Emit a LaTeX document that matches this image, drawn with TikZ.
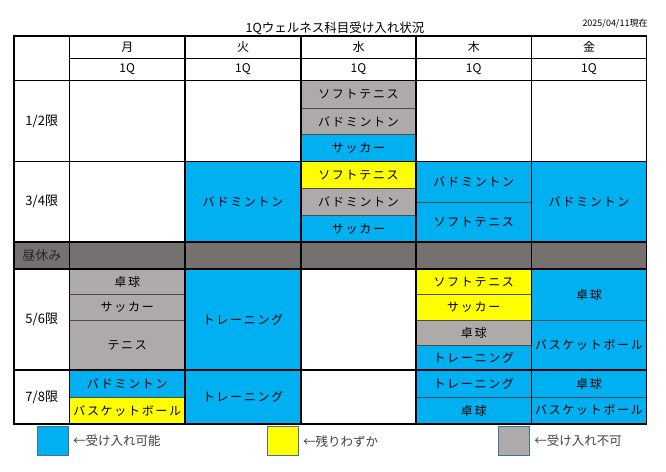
\documentclass[tikz,border=0pt]{standalone}
\usepackage{fontspec}
\setmainfont{Noto Sans CJK JP}
\newfontfamily\kana[LetterSpace=14]{Noto Sans CJK JP}
\usetikzlibrary{positioning}

\definecolor{okblue}{HTML}{00B0F0}
\definecolor{fewyellow}{HTML}{FFFF00}
\definecolor{fullgray}{HTML}{AEAAAA}
\definecolor{lunchgray}{HTML}{767171}
\definecolor{keyedge}{HTML}{41719C}

\tikzset{
	slot/.style={rectangle,draw=black!70,line width=0.9pt,inner sep=0pt,font=\kana\fontsize{12}{14}\selectfont,text=black},
	ok/.style={slot,fill=okblue},
	few/.style={slot,fill=fewyellow},
	full/.style={slot,fill=fullgray},
	lunch/.style={slot,fill=lunchgray,text=black!85,font=\fontsize{13}{15}\selectfont},
	label/.style={inner sep=0pt,font=\fontsize{12}{14}\selectfont},
	period/.style={label,font=\fontsize{13}{15}\selectfont},
	grid/.style={line width=1.4pt,black},
	key/.style={rectangle,draw=keyedge,line width=0.6pt,minimum width=31pt,minimum height=29pt},
	keytext/.style={inner sep=0pt,font=\fontsize{12.5}{14}\selectfont,text=black!75}
}

% cell: name, style, x1, y1, x2, y2, text
\newcommand\putcell[7]{%
	\node[#2,minimum width={(#5-#3)*1pt},minimum height={(#6-#4)*1pt}] (#1) at ({(#3+#5)/2},{(#4+#6)/2}) {#7};}

\begin{document}
\begin{tikzpicture}[x=1pt,y=-1pt]

	\useasboundingbox (0,0) rectangle (666,471);

	\def\xL{14}
	\def\xMo{69.5}
	\def\xTu{185}
	\def\xWe{301}
	\def\xTh{416}
	\def\xFr{531.5}
	\def\xR{646.5}
	\def\yT{36}
	\def\yH{58.5}
	\def\yA{80.5}
	\def\yB{161.5}
	\def\yC{242}
	\def\yD{269}
	\def\yE{370}
	\def\yF{424}

	\node[label] (title) at (335,28.5) {\fontsize{12.5}{14}\selectfont 1Qウェルネス科目受け入れ状況};
	\node[label] (date) at (615,24) {\fontsize{9}{11}\selectfont 2025/04/11現在};

	% header
	\node[label] (mon) at ({(\xMo+\xTu)/2},47) {月};
	\node[label] (tue) at ({(\xTu+\xWe)/2},47) {火};
	\node[label] (wed) at ({(\xWe+\xTh)/2},47) {水};
	\node[label] (thu) at ({(\xTh+\xFr)/2},47) {木};
	\node[label] (fri) at ({(\xFr+\xR)/2},47) {金};
	\node[label] (qmon) at ({(\xMo+\xTu)/2},69.5) {1Q};
	\node[label] (qtue) at ({(\xTu+\xWe)/2},69.5) {1Q};
	\node[label] (qwed) at ({(\xWe+\xTh)/2},69.5) {1Q};
	\node[label] (qthu) at ({(\xTh+\xFr)/2},69.5) {1Q};
	\node[label] (qfri) at ({(\xFr+\xR)/2},69.5) {1Q};

	% periods
	\node[period] (p12) at ({(\xL+\xMo)/2},{(\yA+\yB)/2}) {1/2限};
	\node[period] (p34) at ({(\xL+\xMo)/2},{(\yB+\yC)/2}) {3/4限};
	\node[period] (p56) at ({(\xL+\xMo)/2},{(\yD+\yE)/2}) {5/6限};
	\node[period] (p78) at ({(\xL+\xMo)/2},{(\yE+\yF)/2}) {7/8限};

	% 1/2
	\putcell{we12a}{full}{\xWe}{\yA}{\xTh}{108}{ソフトテニス}
	\putcell{we12b}{full}{\xWe}{108}{\xTh}{134.7}{バドミントン}
	\putcell{we12c}{ok}{\xWe}{134.7}{\xTh}{\yB}{サッカー}

	% 3/4
	\putcell{tu34}{ok}{\xTu}{\yB}{\xWe}{\yC}{バドミントン}
	\putcell{we34a}{few}{\xWe}{\yB}{\xTh}{188.3}{ソフトテニス}
	\putcell{we34b}{full}{\xWe}{188.3}{\xTh}{215.7}{バドミントン}
	\putcell{we34c}{ok}{\xWe}{215.7}{\xTh}{\yC}{サッカー}
	\putcell{th34a}{ok}{\xTh}{\yB}{\xFr}{202.3}{バドミントン}
	\putcell{th34b}{ok}{\xTh}{202.3}{\xFr}{\yC}{ソフトテニス}
	\putcell{fr34}{ok}{\xFr}{\yB}{\xR}{\yC}{バドミントン}

	% lunch
	\putcell{lunch}{lunch}{\xL}{\yC}{\xMo}{\yD}{昼休み}
	\putcell{lunchrow}{lunch}{\xMo}{\yC}{\xR}{\yD}{}

	% 5/6
	\putcell{mo56a}{full}{\xMo}{\yD}{\xTu}{294.7}{卓球}
	\putcell{mo56b}{full}{\xMo}{294.7}{\xTu}{320}{サッカー}
	\putcell{mo56c}{full}{\xMo}{320}{\xTu}{\yE}{テニス}
	\putcell{tu56}{ok}{\xTu}{\yD}{\xWe}{\yE}{トレーニング}
	\putcell{th56a}{few}{\xTh}{\yD}{\xFr}{294.3}{ソフトテニス}
	\putcell{th56b}{few}{\xTh}{294.3}{\xFr}{320}{サッカー}
	\putcell{th56c}{full}{\xTh}{320}{\xFr}{345.3}{卓球}
	\putcell{th56d}{ok}{\xTh}{345.3}{\xFr}{\yE}{トレーニング}
	\putcell{fr56a}{ok}{\xFr}{\yD}{\xR}{320}{卓球}
	\putcell{fr56b}{ok}{\xFr}{320}{\xR}{\yE}{バスケットボール}

	% 7/8
	\putcell{mo78a}{ok}{\xMo}{\yE}{\xTu}{397.3}{バドミントン}
	\putcell{mo78b}{few}{\xMo}{397.3}{\xTu}{\yF}{バスケットボール}
	\putcell{tu78}{ok}{\xTu}{\yE}{\xWe}{\yF}{トレーニング}
	\putcell{th78a}{ok}{\xTh}{\yE}{\xFr}{397}{トレーニング}
	\putcell{th78b}{ok}{\xTh}{397}{\xFr}{\yF}{卓球}
	\putcell{fr78a}{ok}{\xFr}{\yE}{\xR}{397}{卓球}
	\putcell{fr78b}{ok}{\xFr}{397}{\xR}{\yF}{バスケットボール}

	% grid
	\draw[grid] (\xL,\yT) rectangle (\xR,\yF);
	\draw[grid] (\xMo,\yT) -- (\xMo,\yF);
	\draw[grid] (\xTu,\yT) -- (\xTu,\yF);
	\draw[grid] (\xWe,\yT) -- (\xWe,\yF);
	\draw[grid] (\xTh,\yT) -- (\xTh,\yF);
	\draw[grid] (\xFr,\yT) -- (\xFr,\yF);
	\draw[grid] (\xMo,\yH) -- (\xR,\yH);
	\draw[grid] (\xL,\yA) -- (\xR,\yA);
	\draw[grid] (\xL,\yB) -- (\xR,\yB);
	\draw[grid] (\xL,\yC) -- (\xR,\yC);
	\draw[grid] (\xL,\yD) -- (\xR,\yD);
	\draw[grid] (\xL,\yE) -- (\xR,\yE);

	% legend
	\node[key,fill=okblue] (keyok) at (52.5,441.2) {};
	\node[key,fill=fewyellow] (keyfew) at (282.6,441.2) {};
	\node[key,fill=fullgray] (keyfull) at (513.8,441.2) {};
	\node[keytext,right=4.5pt of keyok] (txtok) {←受け入れ可能};
	\node[keytext,right=4.5pt of keyfew] (txtfew) {←残りわずか};
	\node[keytext,right=4.5pt of keyfull] (txtfull) {←受け入れ不可};

\end{tikzpicture}
\end{document}
